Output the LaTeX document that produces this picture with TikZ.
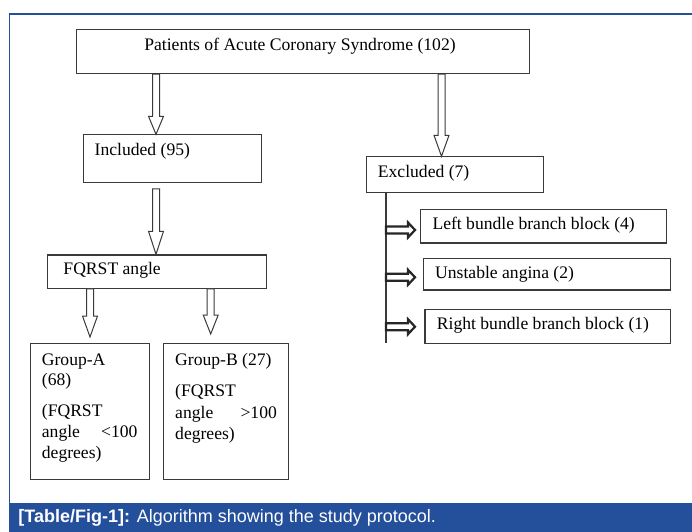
\documentclass[tikz,border=0pt]{standalone}
\usepackage{fontspec}
\setmainfont{Liberation Serif}
\newfontfamily\capfont{Liberation Sans}
\usetikzlibrary{calc}
\definecolor{frameblue}{HTML}{244F9B}
\definecolor{boxline}{HTML}{3A3A3A}
\newcommand{\blockdown}[3]{%
  \draw[varrow] let \p1=(#1), \p2=(#2) in
    (\x1-3.5bp,\y1) -- (\x1-3.5bp,\y2+#3) -- (\x1-7.5bp,\y2+#3) -- (\x1,\y2)
    -- (\x1+7.5bp,\y2+#3) -- (\x1+3.5bp,\y2+#3) -- (\x1+3.5bp,\y1) -- cycle;}
\newcommand{\blockright}[2]{%
  \draw[harrow] let \p1=(#1), \p2=(#2) in
    (\x1,\y1+3.5bp) -- (\x2-7bp,\y1+3.5bp) -- (\x2-7bp,\y1+7.5bp) -- (\x2,\y1)
    -- (\x2-7bp,\y1-7.5bp) -- (\x2-7bp,\y1-3.5bp) -- (\x1,\y1-3.5bp) -- cycle;}
\begin{document}
\begin{tikzpicture}[x=1bp,y=-1bp,
  box/.style={draw=boxline, line width=1.2bp, fill=white, inner sep=0, rectangle, anchor=north west},
  txt/.style={inner sep=0, text height=12.5bp, text depth=4bp, font=\fontsize{17.6bp}{20.7bp}\selectfont},
  varrow/.style={draw=boxline, line width=1bp, fill=white, line join=miter},
  harrow/.style={draw=black!85, line width=2.2bp, fill=white, line join=miter},
  vline/.style={draw=boxline, line width=1.2bp}]
\useasboundingbox (0,0) rectangle (692,532);
\fill[white] (0,0) rectangle (692,532);
% frame and caption
\draw[frameblue, line width=1.5bp] (692,14) -- (9.3,14) -- (9.3,503);
\fill[frameblue] (8.5,503) rectangle (692,532);
\node[anchor=west, text=white, inner sep=0, font=\capfont\fontsize{18bp}{20bp}\selectfont] (cap) at (18.3,517.5)
  {\textbf{[Table/Fig-1]:} Algorithm showing the study protocol.};
% boxes
\node[box, minimum width=453bp, minimum height=44bp] (top) at (76,29) {};
\node[box, minimum width=178.3bp, minimum height=47.4bp] (inc) at (82.7,134.3) {};
\node[box, minimum width=176.7bp, minimum height=35.4bp] (exc) at (366,156.3) {};
\node[box, minimum width=219bp, minimum height=33.4bp] (fq) at (46.7,254.3) {};
\node[box, minimum width=119bp, minimum height=136bp] (ga) at (30,343) {};
\node[box, minimum width=124.7bp, minimum height=136bp] (gb) at (163,343) {};
\node[box, minimum width=245.7bp, minimum height=33.3bp] (lbb) at (420,209) {};
\node[box, minimum width=247.3bp, minimum height=31.6bp] (ua) at (422.7,257.7) {};
\node[box, minimum width=245.7bp, minimum height=33.7bp] (rbb) at (424.3,309) {};
% texts
\node[txt] (toptx) at (300,46.7) {Patients of Acute Coronary Syndrome (102)};
\node[txt, anchor=west] (inctx) at (94.5,151.7) {Included (95)};
\node[txt, anchor=west] (exctx) at (377.7,173.3) {Excluded (7)};
\node[txt, anchor=west] (fqtx) at (63.3,270.7) {FQRST angle};
\node[txt, anchor=west] (lbbtx) at (432.3,225.7) {Left bundle branch block (4)};
\node[txt, anchor=west] (uatx) at (435,274.3) {Unstable angina (2)};
\node[txt, anchor=west] (rbbtx) at (436.7,325.7) {Right bundle branch block (1)};
\node[txt, anchor=west] (ga1) at (41.7,361.7) {Group-A};
\node[txt, anchor=west] (ga2) at (41.7,381) {(68)};
\node[txt, anchor=west] (ga3) at (41.7,412.5) {(FQRST};
\node[txt, anchor=west, text width=95.6bp] (ga4) at (41.7,433.7) {angle\hfill<100};
\node[txt, anchor=west] (ga5) at (41.7,454) {degrees)};
\node[txt, anchor=west] (gb1) at (175,361.7) {Group-B (27)};
\node[txt, anchor=west] (gb2) at (175,392.7) {(FQRST};
\node[txt, anchor=west, text width=101.7bp] (gb3) at (175,414) {angle\hfill>100};
\node[txt, anchor=west] (gb4) at (175,435) {degrees)};
% arrow axis coordinates
\coordinate (a1) at (156,0);
\coordinate (a2) at (441.5,0);
\coordinate (a3) at (90,0);
\coordinate (a4) at (210.7,0);
\coordinate (vx) at (386,0);
\coordinate (vend) at (386,342.7);
\coordinate (h1s) at (386,230);   \coordinate (h1e) at (415,230);
\coordinate (h2s) at (386,277.3); \coordinate (h2e) at (415,277.3);
\coordinate (h3s) at (386,326.7); \coordinate (h3e) at (415,326.7);
% connectors
\blockdown{top.south -| a1}{inc.north -| a1}{18bp}
\blockdown{top.south -| a2}{exc.north -| a2}{21bp}
\blockdown{$(inc.south -| a1)+(0,6)$}{fq.north -| a1}{23bp}
\blockdown{fq.south -| a3}{$(ga.north -| a3)+(0,-6)$}{21bp}
\blockdown{fq.south -| a4}{$(gb.north -| a4)+(0,-9)$}{19bp}
\draw[vline] (exc.south -| vx) -- (vend);
\blockright{h1s}{h1e}
\blockright{h2s}{h2e}
\blockright{h3s}{h3e}
\end{tikzpicture}
\end{document}
